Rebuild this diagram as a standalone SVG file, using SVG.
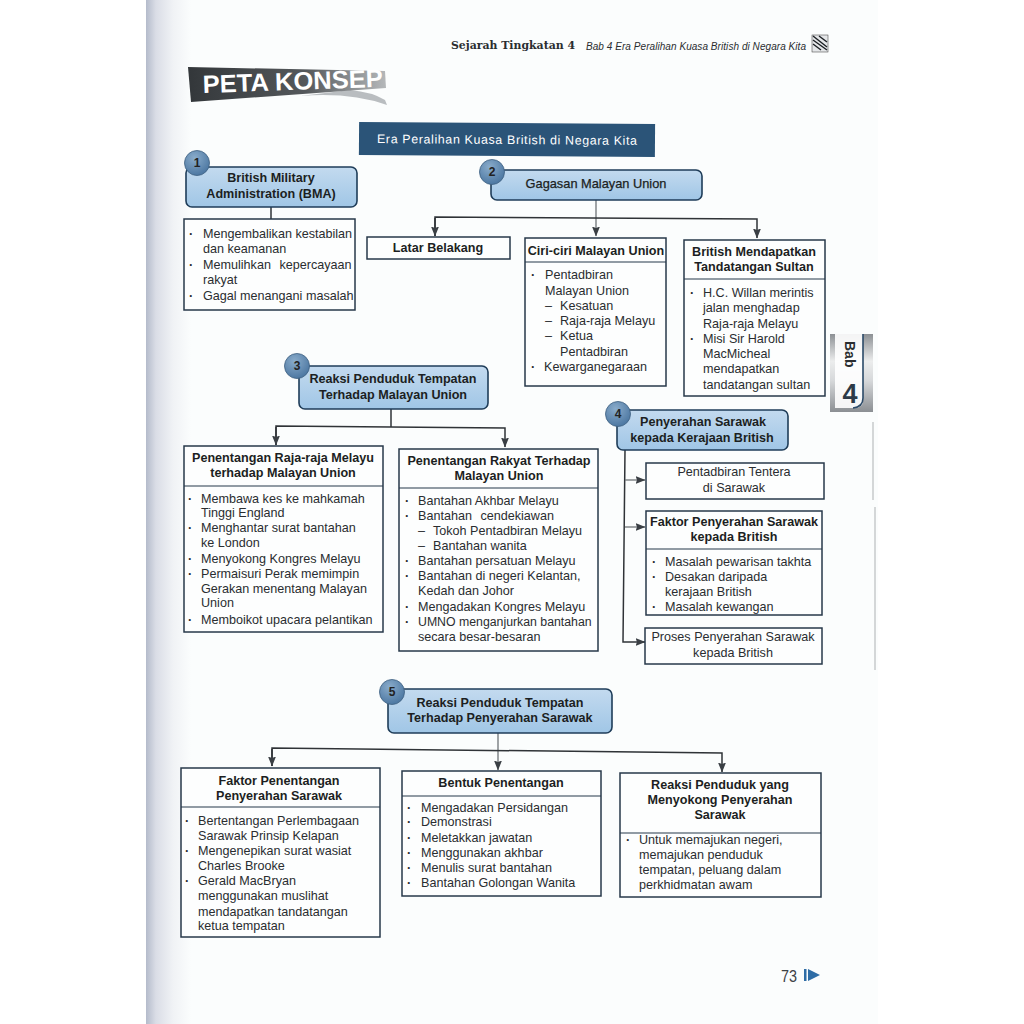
<svg xmlns="http://www.w3.org/2000/svg" width="1024" height="1024" viewBox="0 0 1024 1024">
<style>
text{font-family:"Liberation Sans",Arial,sans-serif;font-size:12.6px;fill:#2a2d30}
.b{font-weight:bold;fill:#1c1f22}
.m{text-anchor:middle}
.d{font-weight:bold}
.box{fill:#fdfefe;stroke:#27384a;stroke-width:1.5}
.div{stroke:#27384a;stroke-width:1.1}
.hd{fill:url(#hg);stroke:#1f3d59;stroke-width:1.6}
.num{fill:url(#ng);stroke:#3d5f80;stroke-width:.8}
.numt{font-size:12px;font-weight:bold;text-anchor:middle;fill:#222}
.c{fill:none;stroke:#2f3337;stroke-width:1.5}
.g{fill:none;stroke:#6e7478;stroke-width:1.3}
</style>
<defs>
<linearGradient id="page" x1="0" x2="1" y1="0" y2="0"><stop offset="0" stop-color="#b4bbcb"/><stop offset=".22" stop-color="#dadde6"/><stop offset=".6" stop-color="#f0f2f5"/><stop offset="1" stop-color="#fbfdfd"/></linearGradient>
<linearGradient id="hg" x1="0" x2="0" y1="0" y2="1"><stop offset="0" stop-color="#c3daef"/><stop offset="1" stop-color="#a0c6e6"/></linearGradient>
<radialGradient id="ng" cx=".4" cy=".3" r=".8"><stop offset="0" stop-color="#8aaccb"/><stop offset="1" stop-color="#44709c"/></radialGradient>
<linearGradient id="ban" x1="0" x2="1" y1="0" y2="0"><stop offset="0" stop-color="#33373a"/><stop offset=".6" stop-color="#55595c"/><stop offset="1" stop-color="#b5b8ba"/></linearGradient>
<linearGradient id="tab" x1="0" x2="0" y1="0" y2="1"><stop offset="0" stop-color="#8c9094"/><stop offset=".35" stop-color="#eceded"/><stop offset=".6" stop-color="#d6d8da"/><stop offset="1" stop-color="#8b8f93"/></linearGradient>
<marker id="a" viewBox="0 0 10 8" refX="9.5" refY="4" markerWidth="10" markerHeight="8" markerUnits="userSpaceOnUse" orient="auto"><path d="M0 0L10 4L0 8L1.5 4Z" fill="#3a3f44"/></marker>
</defs>
<rect width="1024" height="1024" fill="#fff"/>
<rect x="146" y="0" width="732" height="1024" fill="#fbfdfd"/>
<rect x="146" y="0" width="45" height="1024" fill="url(#page)"/>

<g id="page-header">
<text x="451" y="49" lengthAdjust="spacingAndGlyphs" textLength="124" style="font-family:'DejaVu Serif',serif;font-size:11px;font-weight:bold">Sejarah Tingkatan 4</text>
<text x="586" y="50" style="font-size:10px;font-style:italic" textLength="220">Bab 4 Era Peralihan Kuasa British di Negara Kita</text>
<rect x="812" y="35" width="16" height="17" fill="#e4e6e8" stroke="#333" stroke-width=".5"/>
<path d="M813 36L827 47M813 40L827 50M813 44L821 50M819 36L827 42" stroke="#1c2024" stroke-width="1.4" fill="none"/>
</g>
<g id="peta-konsep">
<path d="M387 105Q350 92 300 96L350 90Q372 92 385 100Z" fill="#b9bdc0"/>
<path d="M188 67L385 71L386 88L191 102Z" fill="url(#ban)"/>
<text x="203" y="93" transform="rotate(-2 203 93)" lengthAdjust="spacingAndGlyphs" textLength="180" style="font-size:25px;font-weight:bold;fill:#fff">PETA KONSEP</text>
</g>
<g id="bab-tab">
<rect x="830" y="334" width="43" height="78" fill="url(#tab)"/>
<path d="M835 334H863V400Q863 408 855 408H835Z" fill="#fff" opacity=".9"/>
<path d="M863 334V398Q863 407 853 408" fill="none" stroke="#2b4a68" stroke-width="1.6"/>
<text x="845" y="341" transform="rotate(90 845 341)" style="font-size:14px;font-weight:bold">Bab</text>
<text x="850" y="403" class="b m" style="font-size:27px;fill:#2c3a47">4</text>
</g>
<g id="edge-marks" fill="none" stroke="#c8cacc" stroke-width="1.5">
<path d="M873 422V500M875 507V670"/>
</g>

<g id="connectors">
<path class="c" d="M271 207V219"/>
<path class="g" d="M596 200V236" marker-end="url(#a)"/>
<path class="c" d="M435 236V217L757 219V238" marker-end="url(#a)"/>
<path class="c" d="M435 218V236" marker-end="url(#a)"/>
<path class="c" d="M391 409V427"/>
<path class="c" d="M276 445V426L505 428V447" marker-end="url(#a)"/>
<path class="c" d="M276 427V445" marker-end="url(#a)"/>
<path class="c" d="M625 450L623 642H645" marker-end="url(#a)"/>
<path class="g" d="M625 480H645" marker-end="url(#a)"/>
<path class="g" d="M625 527H645" marker-end="url(#a)"/>
<path class="g" d="M498 733V770" marker-end="url(#a)"/>
<path class="c" d="M272 766V748L722 753V772" marker-end="url(#a)"/>
<path class="c" d="M272 749V766" marker-end="url(#a)"/>
</g>

<g id="title" transform="rotate(.4 507 139)">
<rect x="359" y="123" width="296" height="33" fill="#2b5478"/>
<text x="507" y="144" class="m" style="fill:#fff;font-size:12.4px" textLength="260">Era Peralihan Kuasa British di Negara Kita</text>
</g>

<g id="n1">
<rect class="hd" x="186" y="167" width="171" height="40" rx="6"/>
<circle class="num" cx="197" cy="163" r="12.5"/><text class="numt" x="197" y="167">1</text>
<text class="b m"><tspan x="271" y="182">British Military</tspan><tspan x="271" y="198">Administration (BMA)</tspan></text>
</g>
<g id="n1-list">
<rect class="box" x="184" y="219" width="171" height="91"/>
<text><tspan class="d" x="189" y="238">·</tspan><tspan x="203" y="238">Mengembalikan kestabilan</tspan><tspan x="203" y="253">dan keamanan</tspan><tspan class="d" x="189" y="269">·</tspan><tspan x="203" y="269" style="word-spacing:5px">Memulihkan kepercayaan</tspan><tspan x="203" y="284">rakyat</tspan><tspan class="d" x="189" y="300">·</tspan><tspan x="203" y="300">Gagal menangani masalah</tspan></text>
</g>

<g id="n2">
<rect class="hd" x="491" y="170" width="211" height="30" rx="6"/>
<circle class="num" cx="492" cy="172" r="12.5"/><text class="numt" x="492" y="176">2</text>
<text class="b m" x="596" y="188" style="font-weight:normal;font-size:12.8px;stroke:#1c1f22;stroke-width:.25">Gagasan Malayan Union</text>
</g>
<g id="n2a">
<rect class="box" x="367" y="237" width="143" height="22"/>
<text class="b m" x="438" y="252">Latar Belakang</text>
</g>
<g id="n2b">
<rect class="box" x="525" y="238" width="141" height="148"/><path class="div" d="M525 262H666"/>
<text class="b m" x="596" y="255">Ciri-ciri Malayan Union</text>
<text><tspan class="d" x="531" y="279">·</tspan><tspan x="545" y="279">Pentadbiran</tspan><tspan x="545" y="295">Malayan Union</tspan><tspan x="545" y="310">–</tspan><tspan x="560" y="310">Kesatuan</tspan><tspan x="545" y="325">–</tspan><tspan x="560" y="325">Raja-raja Melayu</tspan><tspan x="545" y="340">–</tspan><tspan x="560" y="340">Ketua</tspan><tspan x="560" y="356">Pentadbiran</tspan><tspan class="d" x="531" y="371">·</tspan><tspan x="544" y="371">Kewarganegaraan</tspan></text>
</g>
<g id="n2c">
<rect class="box" x="684" y="240" width="141" height="156"/><path class="div" d="M684 279H825"/>
<text class="b m"><tspan x="754" y="256">British Mendapatkan</tspan><tspan x="754" y="271">Tandatangan Sultan</tspan></text>
<text><tspan class="d" x="690" y="297">·</tspan><tspan x="703" y="297">H.C. Willan merintis</tspan><tspan x="703" y="312">jalan menghadap</tspan><tspan x="703" y="328">Raja-raja Melayu</tspan><tspan class="d" x="690" y="343">·</tspan><tspan x="703" y="343">Misi Sir Harold</tspan><tspan x="703" y="358">MacMicheal</tspan><tspan x="703" y="373">mendapatkan</tspan><tspan x="703" y="389">tandatangan sultan</tspan></text>
</g>

<g id="n3">
<rect class="hd" x="299" y="366" width="189" height="43" rx="6"/>
<circle class="num" cx="297" cy="366" r="12.5"/><text class="numt" x="297" y="370">3</text>
<text class="b m"><tspan x="393" y="383">Reaksi Penduduk Tempatan</tspan><tspan x="393" y="399">Terhadap Malayan Union</tspan></text>
</g>
<g id="n3a">
<rect class="box" x="184" y="446" width="199" height="186"/><path class="div" d="M184 486H383"/>
<text class="b m"><tspan x="283" y="462">Penentangan Raja-raja Melayu</tspan><tspan x="283" y="477">terhadap Malayan Union</tspan></text>
<text><tspan class="d" x="188" y="503">·</tspan><tspan x="201" y="503">Membawa kes ke mahkamah</tspan><tspan x="201" y="517">Tinggi England</tspan><tspan class="d" x="188" y="532">·</tspan><tspan x="201" y="532">Menghantar surat bantahan</tspan><tspan x="201" y="547">ke London</tspan><tspan class="d" x="188" y="563">·</tspan><tspan x="201" y="563">Menyokong Kongres Melayu</tspan><tspan class="d" x="188" y="578">·</tspan><tspan x="201" y="578">Permaisuri Perak memimpin</tspan><tspan x="201" y="593">Gerakan menentang Malayan</tspan><tspan x="201" y="607">Union</tspan><tspan class="d" x="188" y="624">·</tspan><tspan x="201" y="624">Memboikot upacara pelantikan</tspan></text>
</g>
<g id="n3b">
<rect class="box" x="399" y="449" width="199" height="202"/><path class="div" d="M399 488H598"/>
<text class="b m"><tspan x="499" y="465">Penentangan Rakyat Terhadap</tspan><tspan x="499" y="480">Malayan Union</tspan></text>
<text><tspan class="d" x="405" y="505">·</tspan><tspan x="418" y="505">Bantahan Akhbar Melayu</tspan><tspan class="d" x="405" y="520">·</tspan><tspan x="418" y="520" style="word-spacing:5px">Bantahan cendekiawan</tspan><tspan x="418" y="535">–</tspan><tspan x="433" y="535">Tokoh Pentadbiran Melayu</tspan><tspan x="418" y="550">–</tspan><tspan x="433" y="550">Bantahan wanita</tspan><tspan class="d" x="405" y="565">·</tspan><tspan x="418" y="565">Bantahan persatuan Melayu</tspan><tspan class="d" x="405" y="580">·</tspan><tspan x="418" y="580">Bantahan di negeri Kelantan,</tspan><tspan x="418" y="595">Kedah dan Johor</tspan><tspan class="d" x="405" y="611">·</tspan><tspan x="418" y="611">Mengadakan Kongres Melayu</tspan><tspan class="d" x="405" y="626">·</tspan><tspan x="418" y="626" style="font-size:12.3px">UMNO menganjurkan bantahan</tspan><tspan x="418" y="641">secara besar-besaran</tspan></text>
</g>

<g id="n4">
<rect class="hd" x="617" y="410" width="171" height="40" rx="6"/>
<circle class="num" cx="618" cy="414" r="12.5"/><text class="numt" x="618" y="418">4</text>
<text class="b m"><tspan x="703" y="426">Penyerahan Sarawak</tspan><tspan x="702" y="442">kepada Kerajaan British</tspan></text>
</g>
<g id="n4a">
<rect class="box" x="646" y="463" width="178" height="36"/>
<text class="m"><tspan x="734" y="476">Pentadbiran Tentera</tspan><tspan x="734" y="492">di Sarawak</tspan></text>
</g>
<g id="n4b">
<rect class="box" x="646" y="511" width="176" height="104"/><path class="div" d="M646 549H822"/>
<text class="b m"><tspan x="734" y="526">Faktor Penyerahan Sarawak</tspan><tspan x="734" y="541">kepada British</tspan></text>
<text><tspan class="d" x="652" y="566">·</tspan><tspan x="665" y="566">Masalah pewarisan takhta</tspan><tspan class="d" x="652" y="581">·</tspan><tspan x="665" y="581">Desakan daripada</tspan><tspan x="665" y="596">kerajaan British</tspan><tspan class="d" x="652" y="611">·</tspan><tspan x="665" y="611">Masalah kewangan</tspan></text>
</g>
<g id="n4c">
<rect class="box" x="645" y="628" width="177" height="36"/>
<text class="m"><tspan x="733" y="641">Proses Penyerahan Sarawak</tspan><tspan x="733" y="657">kepada British</tspan></text>
</g>

<g id="n5">
<rect class="hd" x="388" y="689" width="224" height="44" rx="6"/>
<circle class="num" cx="392" cy="692" r="12.5"/><text class="numt" x="392" y="696">5</text>
<text class="b m"><tspan x="500" y="707">Reaksi Penduduk Tempatan</tspan><tspan x="500" y="722">Terhadap Penyerahan Sarawak</tspan></text>
</g>
<g id="n5a">
<rect class="box" x="181" y="768" width="199" height="169"/><path class="div" d="M181 807H380"/>
<text class="b m"><tspan x="279" y="785">Faktor Penentangan</tspan><tspan x="279" y="800">Penyerahan Sarawak</tspan></text>
<text><tspan class="d" x="185" y="825">·</tspan><tspan x="198" y="825">Bertentangan Perlembagaan</tspan><tspan x="198" y="840">Sarawak Prinsip Kelapan</tspan><tspan class="d" x="185" y="855">·</tspan><tspan x="198" y="855">Mengenepikan surat wasiat</tspan><tspan x="198" y="870">Charles Brooke</tspan><tspan class="d" x="185" y="885">·</tspan><tspan x="198" y="885">Gerald MacBryan</tspan><tspan x="198" y="900">menggunakan muslihat</tspan><tspan x="198" y="916">mendapatkan tandatangan</tspan><tspan x="198" y="930">ketua tempatan</tspan></text>
</g>
<g id="n5b">
<rect class="box" x="402" y="771" width="199" height="125"/><path class="div" d="M402 796H601"/>
<text class="b m" x="501" y="787">Bentuk Penentangan</text>
<text><tspan class="d" x="407" y="812">·</tspan><tspan x="421" y="812">Mengadakan Persidangan</tspan><tspan class="d" x="407" y="826">·</tspan><tspan x="421" y="826">Demonstrasi</tspan><tspan class="d" x="407" y="842">·</tspan><tspan x="421" y="842">Meletakkan jawatan</tspan><tspan class="d" x="407" y="857">·</tspan><tspan x="421" y="857">Menggunakan akhbar</tspan><tspan class="d" x="407" y="872">·</tspan><tspan x="421" y="872">Menulis surat bantahan</tspan><tspan class="d" x="407" y="887">·</tspan><tspan x="421" y="887">Bantahan Golongan Wanita</tspan></text>
</g>
<g id="n5c">
<rect class="box" x="620" y="773" width="201" height="124"/><path class="div" d="M620 833H821"/>
<text class="b m"><tspan x="720" y="789">Reaksi Penduduk yang</tspan><tspan x="720" y="804">Menyokong Penyerahan</tspan><tspan x="720" y="819">Sarawak</tspan></text>
<text><tspan class="d" x="626" y="844">·</tspan><tspan x="639" y="844">Untuk memajukan negeri,</tspan><tspan x="639" y="859">memajukan penduduk</tspan><tspan x="639" y="874">tempatan, peluang dalam</tspan><tspan x="639" y="889">perkhidmatan awam</tspan></text>
</g>

<g id="page-number">
<text x="781" y="982" lengthAdjust="spacingAndGlyphs" textLength="16" style="font-size:16px;fill:#3c4145">73</text>
<rect x="804" y="969" width="2.5" height="12" fill="#2f6da6"/>
<path d="M808 969L820 975L808 981Z" fill="#2f6da6"/>
</g>
</svg>
